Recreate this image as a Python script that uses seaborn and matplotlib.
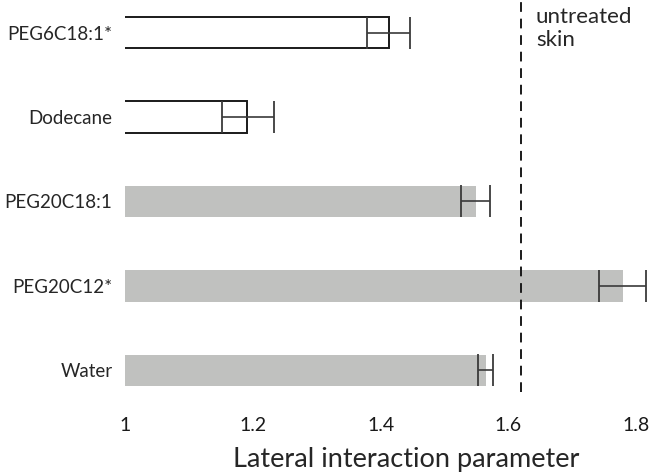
import numpy as np
import pandas as pd
import matplotlib
matplotlib.use("Agg")
import matplotlib.pyplot as plt
import seaborn as sns

# datos
labels = ["PEG6C18:1*", "Dodecane", "PEG20C18:1", "PEG20C12*", "Water"]
values = [1.413, 1.191, 1.550, 1.780, 1.565]
err_lo = [1.379, 1.152, 1.525, 1.742, 1.553]
err_hi = [1.446, 1.233, 1.571, 1.816, 1.576]
fills = ["white", "white", "#c0c1bf", "#c0c1bf", "#c0c1bf"]
untreated = 1.62
xticks = [1.0, 1.2, 1.4, 1.6, 1.8]
xticklabels = ["1", "1.2", "1.4", "1.6", "1.8"]

sns.set_style("white")
plt.rcParams["font.family"] = ["Lato", "DejaVu Sans"]

df = pd.DataFrame({"label": labels, "value": values})

fig = plt.figure(figsize=(6.51, 4.74), dpi=100)
ax = fig.add_axes([0.192, 0.174, 0.805, 0.825])

sns.barplot(data=df, x="value", y="label", hue="label", palette=fills,
            width=0.37, legend=False, ax=ax, orient="h", saturation=1)

for patch, f in zip(ax.patches, fills):
    if f == "white":
        patch.set_edgecolor("#1a1a1a")
        patch.set_linewidth(1.4)
    else:
        patch.set_edgecolor("none")

vals = np.array(values)
pos = np.arange(len(labels))
ax.errorbar(vals, pos, xerr=[vals - np.array(err_lo), np.array(err_hi) - vals],
            fmt="none", ecolor="#3a3a3a", elinewidth=1.2, capsize=11.2, capthick=1.3)

ax.axvline(untreated, color="#1a1a1a", lw=1.4, ls=(0, (5, 3.5)))
ax.text(1.643, -0.3, "untreated\nskin", fontsize=16, ha="left", va="top",
        linespacing=1.2)

ax.set_xlim(1.0, 1.82)
ax.set_ylim(4.25, -0.38)
ax.set_xticks(xticks)
ax.set_xticklabels(xticklabels, fontsize=14)
ax.tick_params(axis="x", direction="out", length=7.5, width=1.5, pad=11, colors="#1a1a1a")
ax.tick_params(axis="y", length=0, pad=9, labelsize=13.5)
ax.set_ylabel("")
ax.set_xlabel("Lateral interaction parameter", fontsize=19.5, labelpad=9)
ax.xaxis.label.set_x(0.536)
for s in ax.spines.values():
    s.set_visible(False)

fig.savefig("out.png", dpi=100)
